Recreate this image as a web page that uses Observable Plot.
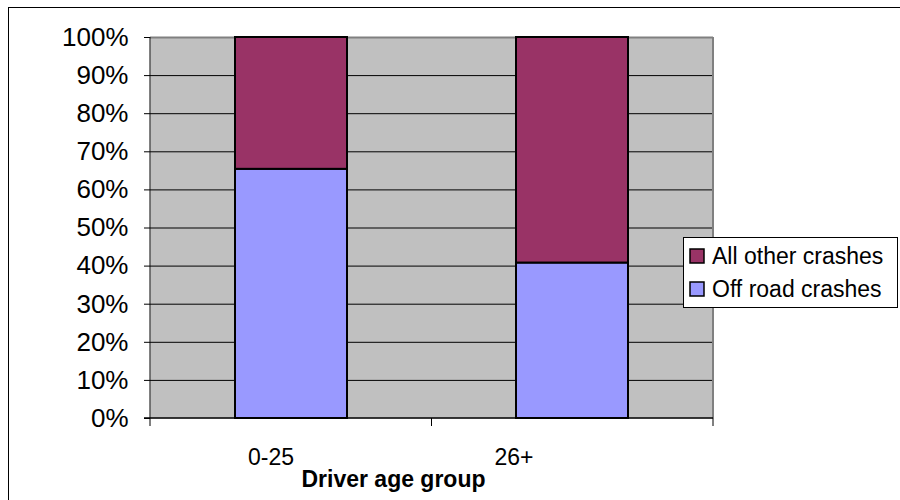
<!DOCTYPE html>
<html><head><meta charset="utf-8">
<script src="https://cdn.jsdelivr.net/npm/d3@7"></script>
<script src="https://cdn.jsdelivr.net/npm/@observablehq/plot@0.6"></script>
<style>
body{margin:0;background:#fff;}
#chart{position:relative;width:900px;height:500px;overflow:hidden;}
</style>
</head><body><div id="chart"></div>
<script>
const groups = ["0-25", "26+"];
const seriesNames = ["Off road crashes", "All other crashes"];
const offRoad = [65.4, 40.8];
const allOther = [34.6, 59.2];
const yTicks = [0, 10, 20, 30, 40, 50, 60, 70, 80, 90, 100];
const colors = ["#9999FF", "#993366"];
const xTitle = "Driver age group";
const legendOrder = ["All other crashes", "Off road crashes"];

const data = groups.flatMap((g, i) => [
  {group: g, type: seriesNames[0], value: offRoad[i]},
  {group: g, type: seriesNames[1], value: allOther[i]}
]);

const font = "'Liberation Sans', Arial, sans-serif";

const plot = Plot.plot({
  width: 900, height: 500,
  marginLeft: 150, marginRight: 187, marginTop: 37, marginBottom: 82,
  style: {fontFamily: font, background: "transparent", color: "#000", overflow: "visible"},
  x: {type: "band", domain: groups, paddingInner: 0.6, paddingOuter: 0.3, axis: null, label: null},
  y: {domain: [0, 100], axis: null, label: null},
  color: {domain: seriesNames, range: colors},
  marks: [
    Plot.frame({fill: "#c0c0c0", stroke: null}),
    Plot.ruleY(yTicks.slice(1, -1), {stroke: "#000", strokeWidth: 1}),
    Plot.ruleY([100], {stroke: "#808080", strokeWidth: 2}),
    Plot.barY(data, {x: "group", y: "value", fill: "type", stroke: "#000", strokeWidth: 2, order: seriesNames}),
    Plot.axisY({ticks: yTicks, tickFormat: d => d + "%", tickSize: 6, tickPadding: 16, fontSize: 26, anchor: "left", stroke: "#000", label: null})
  ]
});

document.getElementById("chart").appendChild(plot);

const svg = d3.select(plot);
const xs = plot.scale("x"), ys = plot.scale("y");
const [xl, xr] = xs.range;
const yb = ys.apply(0), yt = ys.apply(100);
const bw = xs.bandwidth, step = xs.step;

// plot area edges
svg.append("line").attr("x1", xr).attr("x2", xr).attr("y1", yt).attr("y2", yb)
  .attr("stroke", "#808080").attr("stroke-width", 2);
svg.append("line").attr("x1", xl).attr("x2", xl).attr("y1", yt).attr("y2", yb)
  .attr("stroke", "#000").attr("stroke-width", 1);
svg.append("line").attr("x1", xl - 6).attr("x2", xr).attr("y1", yb).attr("y2", yb)
  .attr("stroke", "#000").attr("stroke-width", 1.5);

// x ticks at band boundaries
const bounds = [xl, ...groups.slice(1).map(g => xs.apply(g) - (step - bw) / 2), xr];
bounds.forEach(b => svg.append("line").attr("x1", b).attr("x2", b).attr("y1", yb).attr("y2", yb + 8)
  .attr("stroke", "#000").attr("stroke-width", 1));

// x tick labels (offset as in reference)
const labelShift = [-20, -58];
groups.forEach((g, i) => svg.append("text").attr("x", xs.apply(g) + bw / 2 + labelShift[i]).attr("y", yb + 47)
  .attr("text-anchor", "middle").attr("font-size", 23).attr("font-family", font).attr("fill", "#000").text(g));

// x title
svg.append("text").attr("x", (xl + xr) / 2 - 38).attr("y", yb + 69)
  .attr("text-anchor", "middle").attr("font-size", 23).attr("font-weight", "bold")
  .attr("font-family", font).attr("fill", "#000").text(xTitle);

// legend
const lg = svg.append("g");
lg.append("rect").attr("x", 683.5).attr("y", 237.5).attr("width", 214).attr("height", 70)
  .attr("fill", "#fff").attr("stroke", "#000").attr("stroke-width", 1);
legendOrder.forEach((name, i) => {
  const cy = 256 + i * 33;
  lg.append("rect").attr("x", 690).attr("y", cy - 7).attr("width", 14).attr("height", 14)
    .attr("fill", colors[seriesNames.indexOf(name)]).attr("stroke", "#000").attr("stroke-width", 1.5);
  lg.append("text").attr("x", 712).attr("y", cy + 8).attr("text-anchor", "start").attr("font-size", 23).attr("font-family", font)
    .attr("fill", "#000").text(name);
});

// outer chart frame
svg.append("rect").attr("x", 8.5).attr("y", 7.5).attr("width", 1000).attr("height", 1000)
  .attr("fill", "none").attr("stroke", "#000").attr("stroke-width", 1);
</script>
</body></html>
